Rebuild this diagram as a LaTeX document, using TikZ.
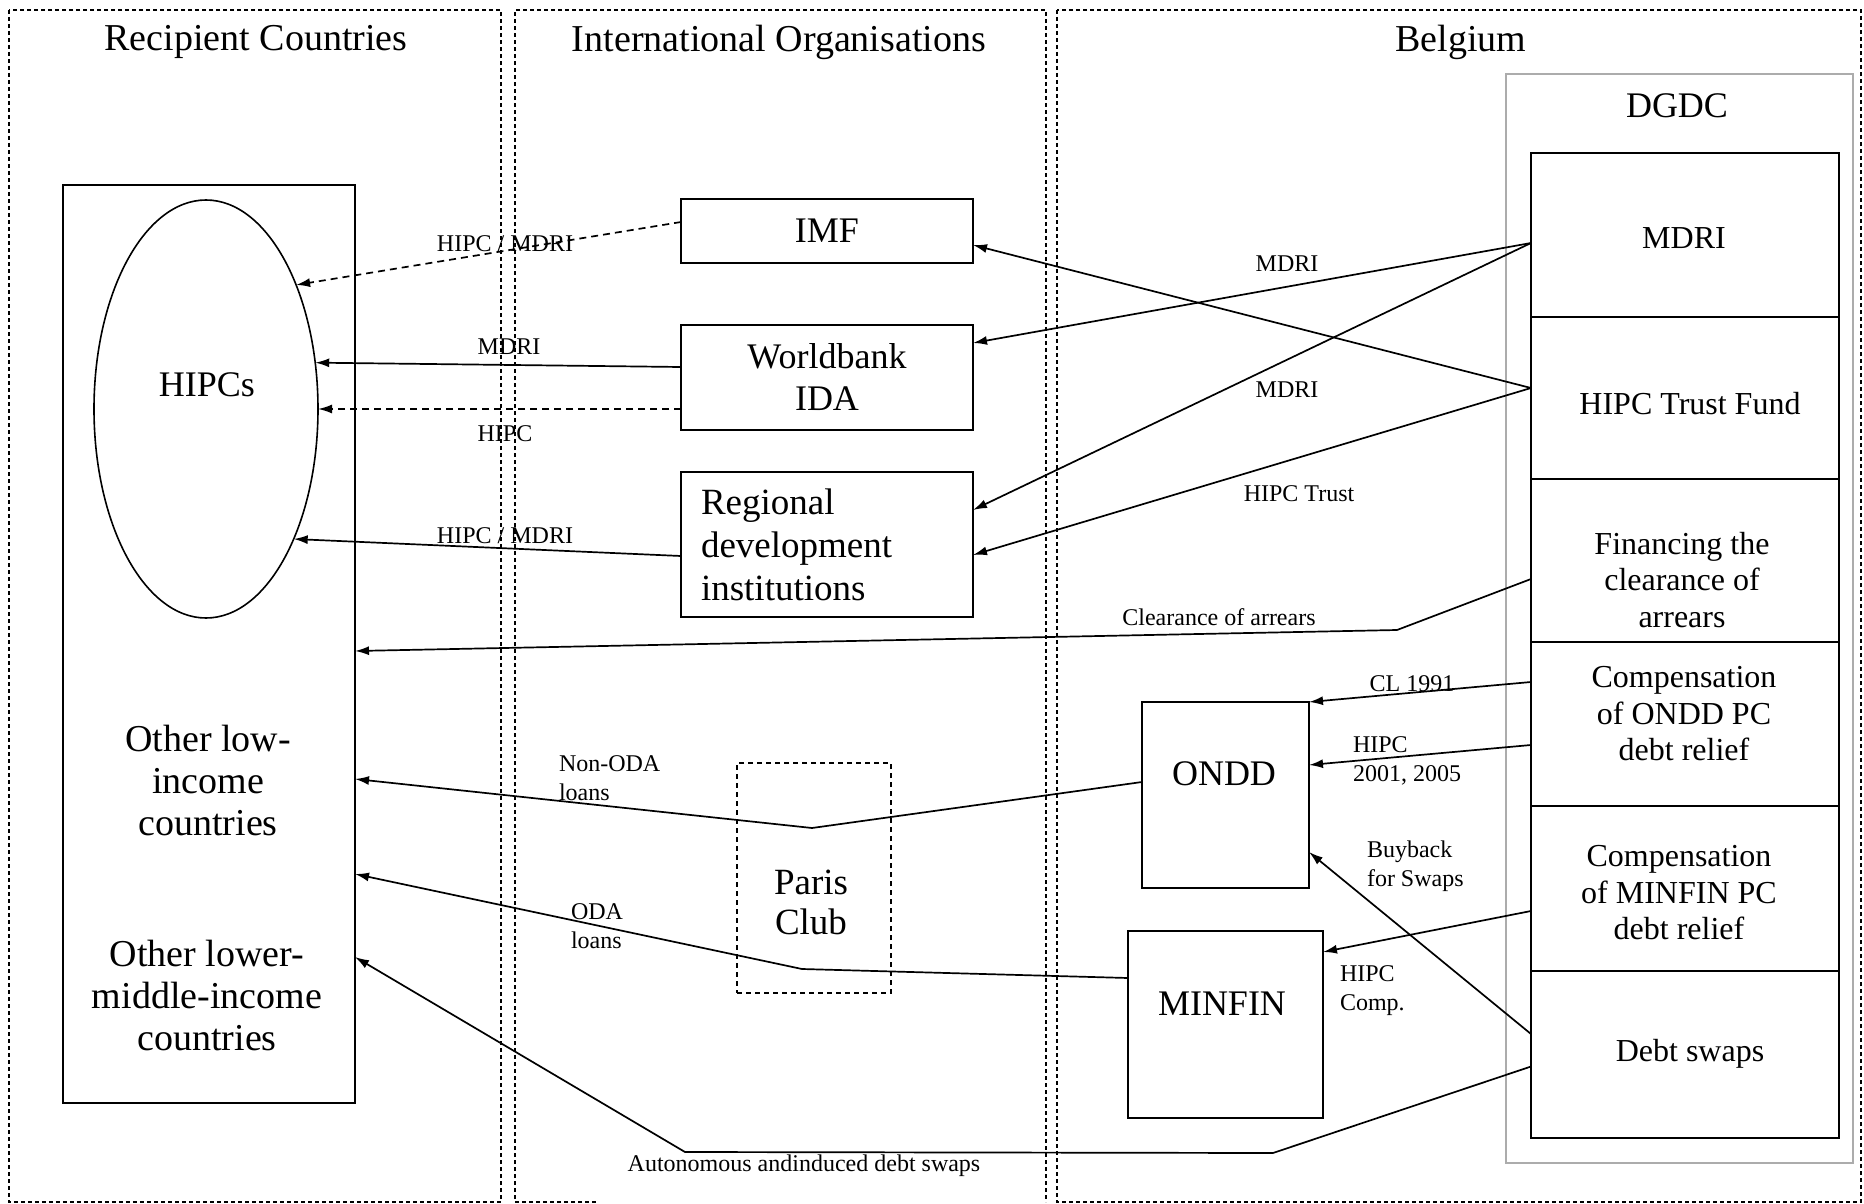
\documentclass[tikz,border=0pt]{standalone}
\usepackage{fontspec}
\setmainfont{Liberation Serif}
\usetikzlibrary{arrows.meta,shapes.geometric}
\begin{document}
\begin{tikzpicture}[x=1pt,y=-1pt,
  every node/.style={inner sep=0pt, outer sep=0pt},
  box/.style={draw, line width=1.8pt, rectangle},
  cell/.style={draw, line width=1.9pt, rectangle, minimum width=308pt},
  framedash/.style={line width=1.3pt, dash pattern=on 4pt off 3pt},
  conn/.style={line width=1.7pt, line join=round, -{Latex[length=14pt,width=9pt]}},
  dconn/.style={conn, dash pattern=on 7pt off 5pt},
  lbl/.style={font=\fontsize{24}{29}\selectfont, align=left},
  bigtext/.style={font=\fontsize{36}{42}\selectfont},
  coltext/.style={font=\fontsize{38}{42}\selectfont, align=center},
  headtext/.style={font=\fontsize{38}{44}\selectfont},
  ctext/.style={font=\fontsize{32}{36.5}\selectfont, align=center},
]
\fill[white] (0,0) rectangle (1864,1204);
\useasboundingbox (0,0) rectangle (1864,1204);

% column frames
\draw[framedash] (9,10) rectangle (501,1202);
\draw[framedash] (596,1202) -- (515,1202) -- (515,10) -- (1046,10) -- (1046,1202);
\draw[framedash] (1057,10) rectangle (1861,1202);

% headers
\node[headtext] (h1) at (256,42) {Recipient Countries};
\node[headtext] (h2) at (779,42) {International Organisations};
\node[headtext] (h3) at (1461,42) {Belgium};

% recipient countries
\node[box, minimum width=292pt, minimum height=918pt] (big) at (209,644) {};
\node[draw, ellipse, line width=1.6pt, minimum width=224pt, minimum height=418pt] (hipcs) at (206,409) {};
\node[bigtext] (hipcst) at (207,385) {HIPCs};
\node[coltext] (olic) at (208,780) {Other low-\\income\\countries};
\node[coltext] (olmic) at (207,995) {Other lower-\\middle-income\\countries};

% international organisations
\node[box, bigtext, minimum width=292pt, minimum height=64pt] (imf) at (827,231) {IMF};
\node[box, bigtext, align=center, minimum width=292pt, minimum height=105pt] (wb) at (827,377.5) {Worldbank\\IDA};
\node[box, font=\fontsize{37}{43}\selectfont, align=left, text width=252pt, minimum width=292pt, minimum height=145pt] (reg) at (827,544.5) {Regional\\development\\institutions};
\node[draw, line width=1.3pt, dash pattern=on 5pt off 4pt, minimum width=154pt, minimum height=230pt] (paris) at (814,878) {};
\node[font=\fontsize{37}{40}\selectfont, align=center] (parist) at (811,902) {Paris\\Club};

% Belgium
\node[draw=gray!65, line width=1.5pt, minimum width=347pt, minimum height=1089pt] (dgdc) at (1679.5,618.5) {};
\node[bigtext] (dgdct) at (1677,106) {DGDC};
\node[cell, minimum height=164pt] (mdri) at (1685,235) {};
\node[cell, minimum height=162pt] (htf) at (1685,398) {};
\node[cell, minimum height=163pt] (fin) at (1685,560.5) {};
\node[cell, minimum height=164pt] (cond) at (1685,724) {};
\node[cell, minimum height=165pt] (comf) at (1685,888.5) {};
\node[cell, minimum height=167pt] (swaps) at (1685,1054.5) {};
\node[ctext] (mdrit) at (1684,238) {MDRI};
\node[ctext] (htft) at (1690,404) {HIPC Trust Fund};
\node[ctext] (fint) at (1682,580) {Financing the\\clearance of\\arrears};
\node[ctext] (condt) at (1684,714) {Compensation\\of ONDD PC\\debt relief};
\node[ctext] (comft) at (1679,893) {Compensation\\of MINFIN PC\\debt relief};
\node[ctext] (swapst) at (1690,1054) {Debt swaps};

\node[box, minimum width=167pt, minimum height=186pt] (ondd) at (1225.5,795) {};
\node[bigtext] (onddt) at (1224,774) {ONDD};
\node[box, minimum width=195pt, minimum height=187pt] (minfin) at (1225.5,1024.5) {};
\node[bigtext] (minfint) at (1222,1004) {MINFIN};

% connectors
\draw[dconn] ([yshift=9pt]imf.west) -- (hipcs.54);
\draw[conn] ([yshift=10.5pt]wb.west) -- (hipcs.23.8);
\draw[dconn] ([yshift=-31.5pt]wb.west) -- (hipcs.east);
\draw[conn] ([yshift=-11.5pt]reg.west) -- (hipcs.-56);

\draw[conn] ([yshift=-8pt]mdri.west) -- ([yshift=34.5pt]wb.east);
\draw[conn] ([yshift=-8pt]mdri.west) -- ([yshift=34.5pt]reg.east);
\draw[conn] ([yshift=10pt]htf.west) -- ([yshift=-14pt]imf.east);
\draw[conn] ([yshift=10pt]htf.west) -- ([yshift=-10.5pt]reg.east);

\coordinate (k1) at (1397,630);
\draw[conn] ([yshift=-18.5pt]fin.west) -- (k1) -- ([yshift=-7pt]big.east);

\draw[conn] ([yshift=42pt]cond.west) -- (ondd.north east);
\draw[conn] ([yshift=-21pt]cond.west) -- ([yshift=30pt]ondd.east);
\draw[conn] ([yshift=20.5pt]swaps.west) -- ([yshift=-57pt]ondd.east);
\draw[conn] ([yshift=-22.5pt]comf.west) -- ([yshift=72.5pt]minfin.east);

\coordinate (k2) at (1273,1153);
\coordinate (k3) at (685,1152);
\draw[conn] ([yshift=-12pt]swaps.west) -- (k2) -- (k3) -- ([yshift=-313pt]big.east);

\coordinate (k4) at (812,828);
\draw[conn] ([yshift=13pt]ondd.west) -- (k4) -- ([yshift=-135pt]big.east);

\coordinate (k5) at (802,969);
\draw[conn] ([yshift=46.5pt]minfin.west) -- (k5) -- ([yshift=-230pt]big.east);

% labels
\node[lbl] (l1) at (505,244) {HIPC / MDRI};
\node[lbl] (l2) at (509,347) {MDRI};
\node[lbl] (l3) at (505,434) {HIPC};
\node[lbl] (l4) at (505,536) {HIPC / MDRI};
\node[lbl] (l5) at (1287,264) {MDRI};
\node[lbl] (l6) at (1287,390) {MDRI};
\node[lbl] (l7) at (1299,494) {HIPC Trust};
\node[lbl] (l8) at (1219,617) {Clearance of arrears};
\node[lbl] (l9) at (1412,684) {CL 1991};
\node[lbl, anchor=west] (l10) at (1353,761) {HIPC\\2001, 2005};
\node[lbl, anchor=west] (l11) at (1367,866) {Buyback\\for Swaps};
\node[lbl, anchor=west] (l12) at (1340,991) {HIPC\\Comp.};
\node[lbl, anchor=west] (l13) at (559,778) {Non-ODA\\loans};
\node[lbl, anchor=west] (l14) at (571,926) {ODA\\loans};
\node[lbl] (l15) at (804,1166) {Autonomous andinduced debt swaps};
\end{tikzpicture}
\end{document}
